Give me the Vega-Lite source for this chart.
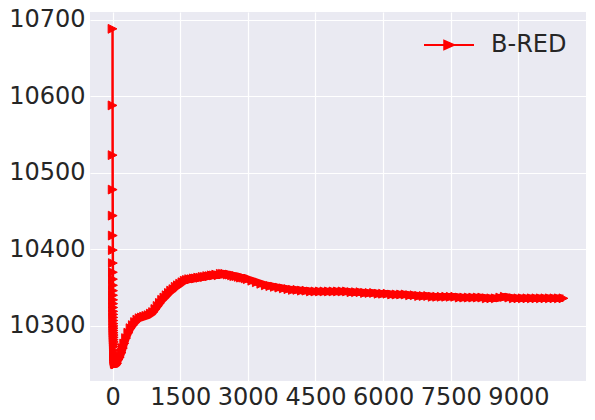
{
  "$schema": "https://vega.github.io/schema/vega-lite/v6.json",
  "width": 496,
  "height": 369,
  "autosize": {"type": "none"},
  "padding": {"left": 90, "top": 12, "right": 9, "bottom": 39},
  "background": "#ffffff",
  "config": {
    "view": {"fill": "#EAEAF2", "stroke": null},
    "font": "DejaVu Sans",
    "axis": {
      "domain": false,
      "ticks": false,
      "grid": true,
      "gridColor": "#ffffff",
      "gridWidth": 1.2,
      "gridOpacity": 1,
      "labelFont": "DejaVu Sans",
      "labelFontSize": 24,
      "labelColor": "#262626",
      "title": null
    }
  },
  "data": {
    "values": [
      {"it": 0, "val": 10688, "series": "B-RED"},
      {"it": 1, "val": 10588, "series": "B-RED"},
      {"it": 2, "val": 10523, "series": "B-RED"},
      {"it": 3, "val": 10478, "series": "B-RED"},
      {"it": 4, "val": 10444, "series": "B-RED"},
      {"it": 5, "val": 10418, "series": "B-RED"},
      {"it": 6, "val": 10399, "series": "B-RED"},
      {"it": 7, "val": 10382, "series": "B-RED"},
      {"it": 8, "val": 10370, "series": "B-RED"},
      {"it": 9, "val": 10361, "series": "B-RED"},
      {"it": 10, "val": 10353, "series": "B-RED"},
      {"it": 11, "val": 10346, "series": "B-RED"},
      {"it": 12, "val": 10340, "series": "B-RED"},
      {"it": 13, "val": 10334, "series": "B-RED"},
      {"it": 14, "val": 10329, "series": "B-RED"},
      {"it": 15, "val": 10324, "series": "B-RED"},
      {"it": 16, "val": 10319, "series": "B-RED"},
      {"it": 17, "val": 10315, "series": "B-RED"},
      {"it": 18, "val": 10311, "series": "B-RED"},
      {"it": 19, "val": 10307, "series": "B-RED"},
      {"it": 20, "val": 10303, "series": "B-RED"},
      {"it": 21, "val": 10300, "series": "B-RED"},
      {"it": 22, "val": 10297, "series": "B-RED"},
      {"it": 23, "val": 10294, "series": "B-RED"},
      {"it": 24, "val": 10291, "series": "B-RED"},
      {"it": 25, "val": 10288, "series": "B-RED"},
      {"it": 26, "val": 10285, "series": "B-RED"},
      {"it": 27, "val": 10282, "series": "B-RED"},
      {"it": 28, "val": 10279, "series": "B-RED"},
      {"it": 29, "val": 10276, "series": "B-RED"},
      {"it": 30, "val": 10273, "series": "B-RED"},
      {"it": 32, "val": 10268, "series": "B-RED"},
      {"it": 34, "val": 10264, "series": "B-RED"},
      {"it": 36, "val": 10260, "series": "B-RED"},
      {"it": 38, "val": 10257, "series": "B-RED"},
      {"it": 40, "val": 10255, "series": "B-RED"},
      {"it": 45, "val": 10253, "series": "B-RED"},
      {"it": 50, "val": 10251, "series": "B-RED"},
      {"it": 60, "val": 10250, "series": "B-RED"},
      {"it": 70, "val": 10250, "series": "B-RED"},
      {"it": 80, "val": 10250, "series": "B-RED"},
      {"it": 100, "val": 10251, "series": "B-RED"},
      {"it": 130, "val": 10256, "series": "B-RED"},
      {"it": 160, "val": 10259, "series": "B-RED"},
      {"it": 200, "val": 10265, "series": "B-RED"},
      {"it": 230, "val": 10271, "series": "B-RED"},
      {"it": 260, "val": 10277, "series": "B-RED"},
      {"it": 300, "val": 10284, "series": "B-RED"},
      {"it": 350, "val": 10291, "series": "B-RED"},
      {"it": 400, "val": 10297, "series": "B-RED"},
      {"it": 450, "val": 10301, "series": "B-RED"},
      {"it": 500, "val": 10305, "series": "B-RED"},
      {"it": 550, "val": 10308, "series": "B-RED"},
      {"it": 600, "val": 10310, "series": "B-RED"},
      {"it": 650, "val": 10311, "series": "B-RED"},
      {"it": 700, "val": 10312, "series": "B-RED"},
      {"it": 750, "val": 10313, "series": "B-RED"},
      {"it": 800, "val": 10314, "series": "B-RED"},
      {"it": 850, "val": 10316, "series": "B-RED"},
      {"it": 900, "val": 10318, "series": "B-RED"},
      {"it": 950, "val": 10322, "series": "B-RED"},
      {"it": 1000, "val": 10326, "series": "B-RED"},
      {"it": 1050, "val": 10330, "series": "B-RED"},
      {"it": 1100, "val": 10334, "series": "B-RED"},
      {"it": 1150, "val": 10337, "series": "B-RED"},
      {"it": 1200, "val": 10340, "series": "B-RED"},
      {"it": 1250, "val": 10343, "series": "B-RED"},
      {"it": 1300, "val": 10346, "series": "B-RED"},
      {"it": 1350, "val": 10348, "series": "B-RED"},
      {"it": 1400, "val": 10351, "series": "B-RED"},
      {"it": 1450, "val": 10353, "series": "B-RED"},
      {"it": 1500, "val": 10355, "series": "B-RED"},
      {"it": 1550, "val": 10357, "series": "B-RED"},
      {"it": 1600, "val": 10359, "series": "B-RED"},
      {"it": 1650, "val": 10360, "series": "B-RED"},
      {"it": 1700, "val": 10361, "series": "B-RED"},
      {"it": 1750, "val": 10361, "series": "B-RED"},
      {"it": 1800, "val": 10362, "series": "B-RED"},
      {"it": 1850, "val": 10362, "series": "B-RED"},
      {"it": 1900, "val": 10363, "series": "B-RED"},
      {"it": 1950, "val": 10363, "series": "B-RED"},
      {"it": 2000, "val": 10364, "series": "B-RED"},
      {"it": 2050, "val": 10364, "series": "B-RED"},
      {"it": 2100, "val": 10365, "series": "B-RED"},
      {"it": 2150, "val": 10365, "series": "B-RED"},
      {"it": 2200, "val": 10366, "series": "B-RED"},
      {"it": 2250, "val": 10366, "series": "B-RED"},
      {"it": 2300, "val": 10367, "series": "B-RED"},
      {"it": 2350, "val": 10366, "series": "B-RED"},
      {"it": 2400, "val": 10368, "series": "B-RED"},
      {"it": 2450, "val": 10368, "series": "B-RED"},
      {"it": 2500, "val": 10368, "series": "B-RED"},
      {"it": 2550, "val": 10367, "series": "B-RED"},
      {"it": 2600, "val": 10367, "series": "B-RED"},
      {"it": 2650, "val": 10366, "series": "B-RED"},
      {"it": 2700, "val": 10365, "series": "B-RED"},
      {"it": 2750, "val": 10365, "series": "B-RED"},
      {"it": 2800, "val": 10364, "series": "B-RED"},
      {"it": 2850, "val": 10363, "series": "B-RED"},
      {"it": 2900, "val": 10363, "series": "B-RED"},
      {"it": 2950, "val": 10362, "series": "B-RED"},
      {"it": 3000, "val": 10361, "series": "B-RED"},
      {"it": 3100, "val": 10359, "series": "B-RED"},
      {"it": 3200, "val": 10357, "series": "B-RED"},
      {"it": 3300, "val": 10355, "series": "B-RED"},
      {"it": 3400, "val": 10353, "series": "B-RED"},
      {"it": 3500, "val": 10352, "series": "B-RED"},
      {"it": 3600, "val": 10351, "series": "B-RED"},
      {"it": 3700, "val": 10350, "series": "B-RED"},
      {"it": 3800, "val": 10349, "series": "B-RED"},
      {"it": 3900, "val": 10348, "series": "B-RED"},
      {"it": 4000, "val": 10347, "series": "B-RED"},
      {"it": 4100, "val": 10347, "series": "B-RED"},
      {"it": 4200, "val": 10346, "series": "B-RED"},
      {"it": 4300, "val": 10346, "series": "B-RED"},
      {"it": 4400, "val": 10345, "series": "B-RED"},
      {"it": 4500, "val": 10345, "series": "B-RED"},
      {"it": 4600, "val": 10345, "series": "B-RED"},
      {"it": 4700, "val": 10345, "series": "B-RED"},
      {"it": 4800, "val": 10345, "series": "B-RED"},
      {"it": 4900, "val": 10345, "series": "B-RED"},
      {"it": 5000, "val": 10345, "series": "B-RED"},
      {"it": 5100, "val": 10345, "series": "B-RED"},
      {"it": 5200, "val": 10345, "series": "B-RED"},
      {"it": 5300, "val": 10344, "series": "B-RED"},
      {"it": 5400, "val": 10344, "series": "B-RED"},
      {"it": 5500, "val": 10344, "series": "B-RED"},
      {"it": 5600, "val": 10343, "series": "B-RED"},
      {"it": 5700, "val": 10343, "series": "B-RED"},
      {"it": 5800, "val": 10343, "series": "B-RED"},
      {"it": 5900, "val": 10342, "series": "B-RED"},
      {"it": 6000, "val": 10342, "series": "B-RED"},
      {"it": 6100, "val": 10342, "series": "B-RED"},
      {"it": 6200, "val": 10341, "series": "B-RED"},
      {"it": 6300, "val": 10341, "series": "B-RED"},
      {"it": 6400, "val": 10341, "series": "B-RED"},
      {"it": 6500, "val": 10341, "series": "B-RED"},
      {"it": 6600, "val": 10340, "series": "B-RED"},
      {"it": 6700, "val": 10340, "series": "B-RED"},
      {"it": 6800, "val": 10339, "series": "B-RED"},
      {"it": 6900, "val": 10339, "series": "B-RED"},
      {"it": 7000, "val": 10339, "series": "B-RED"},
      {"it": 7100, "val": 10338, "series": "B-RED"},
      {"it": 7200, "val": 10338, "series": "B-RED"},
      {"it": 7300, "val": 10338, "series": "B-RED"},
      {"it": 7400, "val": 10338, "series": "B-RED"},
      {"it": 7500, "val": 10338, "series": "B-RED"},
      {"it": 7600, "val": 10338, "series": "B-RED"},
      {"it": 7700, "val": 10337, "series": "B-RED"},
      {"it": 7800, "val": 10337, "series": "B-RED"},
      {"it": 7900, "val": 10337, "series": "B-RED"},
      {"it": 8000, "val": 10337, "series": "B-RED"},
      {"it": 8100, "val": 10337, "series": "B-RED"},
      {"it": 8200, "val": 10337, "series": "B-RED"},
      {"it": 8300, "val": 10336, "series": "B-RED"},
      {"it": 8400, "val": 10336, "series": "B-RED"},
      {"it": 8500, "val": 10336, "series": "B-RED"},
      {"it": 8600, "val": 10337, "series": "B-RED"},
      {"it": 8700, "val": 10338, "series": "B-RED"},
      {"it": 8800, "val": 10337, "series": "B-RED"},
      {"it": 8900, "val": 10336, "series": "B-RED"},
      {"it": 9000, "val": 10336, "series": "B-RED"},
      {"it": 9100, "val": 10336, "series": "B-RED"},
      {"it": 9200, "val": 10336, "series": "B-RED"},
      {"it": 9300, "val": 10336, "series": "B-RED"},
      {"it": 9400, "val": 10336, "series": "B-RED"},
      {"it": 9500, "val": 10336, "series": "B-RED"},
      {"it": 9600, "val": 10336, "series": "B-RED"},
      {"it": 9700, "val": 10336, "series": "B-RED"},
      {"it": 9800, "val": 10336, "series": "B-RED"},
      {"it": 9900, "val": 10336, "series": "B-RED"},
      {"it": 9999, "val": 10336, "series": "B-RED"}
    ]
  },
  "encoding": {
    "x": {
      "field": "it",
      "type": "quantitative",
      "scale": {"domain": [-500, 10499], "nice": false, "zero": false},
      "axis": {"values": [0, 1500, 3000, 4500, 6000, 7500, 9000], "labelPadding": 4, "format": "d"}
    },
    "y": {
      "field": "val",
      "type": "quantitative",
      "scale": {"domain": [10228, 10710], "nice": false, "zero": false},
      "axis": {"values": [10300, 10400, 10500, 10600, 10700], "labelPadding": 5, "format": "d"}
    }
  },
  "layer": [
    {
      "mark": {"type": "line", "strokeWidth": 2.5, "clip": true},
      "encoding": {
        "color": {
          "field": "series",
          "type": "nominal",
          "scale": {"range": ["#ff0000"]},
          "legend": {
            "title": null,
            "orient": "none",
            "legendX": 333,
            "legendY": 7,
            "padding": 0,
            "symbolType": "M-1,0L1,0M0.19,0L-0.19,-0.17L-0.19,0.17Z",
            "symbolSize": 2500,
            "symbolStrokeWidth": 2,
            "symbolStrokeColor": "#ff0000",
            "symbolFillColor": "#ff0000",
            "labelFont": "DejaVu Sans",
            "labelFontSize": 24,
            "labelColor": "#262626",
            "labelOffset": 16,
            "encode": {"symbols": {"update": {"fill": {"value": "#ff0000"}, "stroke": {"value": "#ff0000"}, "strokeWidth": {"value": 2}}}}
          }
        }
      }
    },
    {
      "transform": [{"filter": "datum.it >= 40"}],
      "mark": {"type": "line", "strokeWidth": 7.5, "color": "#ff0000", "clip": true, "strokeJoin": "round"},
      "encoding": {}
    },
    {
      "mark": {
        "type": "point",
        "shape": "M1,0L-1,-1L-1,1Z",
        "size": 78,
        "filled": true,
        "color": "#ff0000",
        "stroke": "#ff0000",
        "strokeWidth": 1,
        "opacity": 1,
        "clip": true
      }
    }
  ]
}
